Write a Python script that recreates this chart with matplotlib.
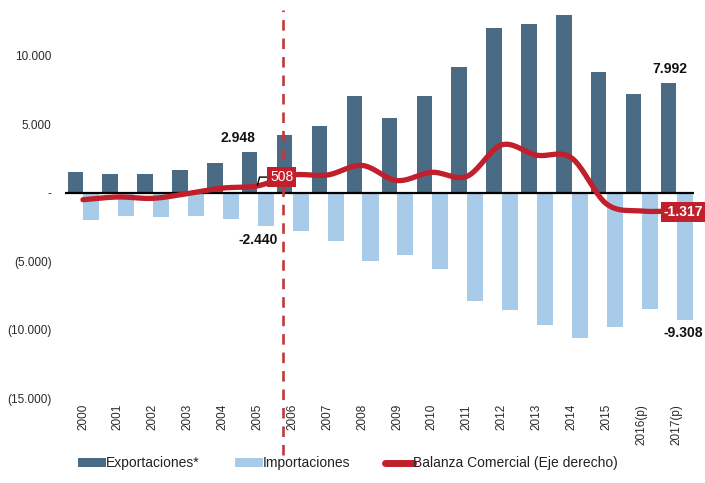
import numpy as np
import matplotlib
matplotlib.use("Agg")
import matplotlib.pyplot as plt
from matplotlib.patches import Patch
from matplotlib.lines import Line2D

plt.rcParams['font.family'] = ['Liberation Sans', 'DejaVu Sans']

# Datos (millones US$)
years = ['2000', '2001', '2002', '2003', '2004', '2005', '2006', '2007', '2008',
         '2009', '2010', '2011', '2012', '2013', '2014', '2015', '2016(p)', '2017(p)']
exportaciones = [1500, 1400, 1400, 1700, 2200, 2948, 4200, 4900, 7100,
                 5450, 7100, 9200, 12000, 12300, 13000, 8850, 7200, 7992]
importaciones = [-2000, -1700, -1750, -1700, -1900, -2440, -2800, -3500, -5000,
                 -4500, -5550, -7900, -8550, -9650, -10600, -9800, -8450, -9308]
balanza = [-500, -300, -400, -50, 350, 508, 1300, 1300, 2000,
           900, 1500, 1200, 3500, 2750, 2550, -800, -1320, -1317]

c_exp = '#4b6a84'
c_imp = '#a8cbe9'
c_bal = '#c01f2b'

x = np.arange(len(years))


def smooth(xs, ys, n=20):
    # curva suavizada tipo Catmull-Rom (como las líneas suavizadas de Excel)
    xs = np.asarray(xs, float)
    ys = np.asarray(ys, float)
    px = np.concatenate([[2 * xs[0] - xs[1]], xs, [2 * xs[-1] - xs[-2]]])
    py = np.concatenate([[2 * ys[0] - ys[1]], ys, [2 * ys[-1] - ys[-2]]])
    ox, oy = [], []
    t = np.linspace(0, 1, n, endpoint=False)
    for i in range(1, len(px) - 2):
        for arr, out in ((px, ox), (py, oy)):
            p0, p1, p2, p3 = arr[i - 1], arr[i], arr[i + 1], arr[i + 2]
            out.extend(0.5 * ((2 * p1) + (-p0 + p2) * t
                              + (2 * p0 - 5 * p1 + 4 * p2 - p3) * t ** 2
                              + (-p0 + 3 * p1 - 3 * p2 + p3) * t ** 3))
    ox.append(xs[-1])
    oy.append(ys[-1])
    return np.array(ox), np.array(oy)


fig = plt.figure(figsize=(7.05, 4.83), dpi=100)
ax = fig.add_axes([0.0929, 0.175, 0.891, 0.823])

ax.bar(x - 0.22, exportaciones, width=0.44, color=c_exp, zorder=2)
ax.bar(x + 0.24, importaciones, width=0.46, color=c_imp, zorder=2)
ax.axhline(0, color='black', lw=1.6, zorder=3)

ax.set_xlim(-0.5, 17.5)
ax.set_ylim(-15000, 14000)
ax.set_yticks([-15000, -10000, -5000, 0, 5000, 10000])
ax.set_yticklabels(['(15.000)', '(10.000)', '(5.000)', '-', '5.000', '10.000'])
ax.set_xticks(x)
ax.set_xticklabels(years, rotation=90, va='top', ha='center')
ax.tick_params(axis='both', length=0, labelsize=8.5, colors='#2a2a2a')
ax.tick_params(axis='y', pad=10)
ax.tick_params(axis='x', pad=4)
for s in ax.spines.values():
    s.set_visible(False)

# Eje derecho (misma escala)
ax2 = ax.twinx()
ax2.set_ylim(ax.get_ylim())
ax2.set_xlim(ax.get_xlim())
ax2.axis('off')

ax2.axvline(5.73, ymin=-0.142, ymax=0.977, color='#c0393b', lw=1.9,
            dashes=(4, 3), clip_on=False, zorder=2)

sx, sy = smooth(x, balanza)
ax2.plot(sx, sy, color=c_bal, lw=3.8, solid_capstyle='round', zorder=4)

# Etiquetas
ax2.text(4.44, 4000, '2.948', ha='center', va='center', fontsize=10,
         fontweight='bold', color='#111111')
ax2.text(5.01, -3430, '-2.440', ha='center', va='center', fontsize=10,
         fontweight='bold', color='#111111')
ax2.text(16.82, 9050, '7.992', ha='center', va='center', fontsize=10,
         fontweight='bold', color='#111111')
ax2.text(17.19, -10220, '-9.308', ha='center', va='center', fontsize=10,
         fontweight='bold', color='#111111')

ax2.plot([5.0, 5.06, 5.3], [560, 1150, 1150], color='black', lw=1, zorder=5)
ax2.text(5.70, 1170, '508', ha='center', va='center', fontsize=10,
         color='white', zorder=6,
         bbox=dict(boxstyle='square,pad=0.2', fc=c_bal, ec='none'))
ax2.text(17.2, -1400, '-1.317', ha='center', va='center', fontsize=10,
         fontweight='bold', color='white', zorder=6, clip_on=False,
         bbox=dict(boxstyle='square,pad=0.2', fc=c_bal, ec='none'))

handles = [Patch(facecolor=c_exp, label='Exportaciones*'),
           Patch(facecolor=c_imp, label='Importaciones'),
           Line2D([0], [0], color=c_bal, lw=5, solid_capstyle='round',
                  label='Balanza Comercial (Eje derecho)')]
fig.legend(handles=handles, loc='center left', bbox_to_anchor=(0.1106, 0.041),
           ncol=3, frameon=False, fontsize=10, handlelength=2.0,
           handleheight=0.6, handletextpad=0.0, columnspacing=2.55,
           borderpad=0, borderaxespad=0, labelcolor='#222222')

fig.savefig('out.png', dpi=100)
